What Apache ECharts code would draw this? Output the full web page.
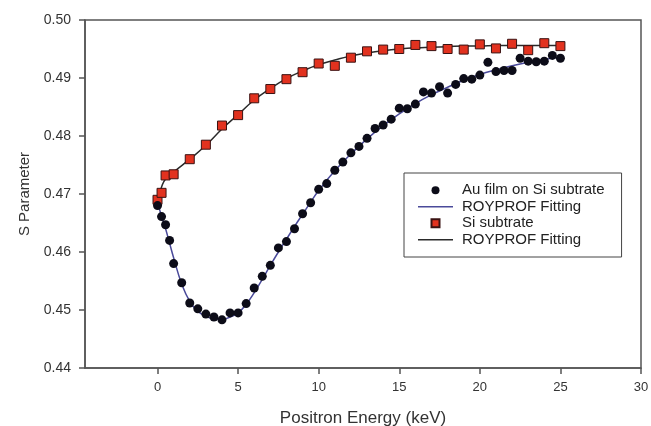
<!DOCTYPE html>
<html>
<head>
<meta charset="utf-8">
<script src="https://cdn.jsdelivr.net/npm/echarts@6/dist/echarts.min.js"></script>
<style>
html,body{margin:0;padding:0;background:#fff;}
#main{width:651px;height:426px;}
</style>
</head>
<body>
<div id="main"></div>
<script>
// Au film on Si subtrate (measured points)
var auX = [0, 0.25, 0.5, 0.75, 1, 1.5, 2, 2.5, 3, 3.5, 4, 4.5, 5, 5.5, 6, 6.5, 7, 7.5, 8, 8.5, 9, 9.5, 10, 10.5,
  11, 11.5, 12, 12.5, 13, 13.5, 14, 14.5, 15, 15.5, 16, 16.5, 17, 17.5, 18, 18.5, 19, 19.5, 20, 20.5,
  21, 21.5, 22, 22.5, 23, 23.5, 24, 24.5, 25];
var auS = [0.4680, 0.4661, 0.4647, 0.4620, 0.4580, 0.4547, 0.4512, 0.4502, 0.4493, 0.4488, 0.4483, 0.4495, 0.4495, 0.4511,
  0.4538, 0.4558, 0.4577, 0.4607, 0.4618, 0.4640, 0.4666, 0.4685, 0.4708, 0.4718,
  0.4741, 0.4755, 0.4771, 0.4782, 0.4796, 0.4813, 0.4819, 0.4829, 0.4848, 0.4847, 0.4855, 0.4876, 0.4874, 0.4885,
  0.4874, 0.4889, 0.4899, 0.4898, 0.4905, 0.4927, 0.4911, 0.4913, 0.4913, 0.4934, 0.4929, 0.4928, 0.4929, 0.4939, 0.4934];

// ROYPROF fit for Au film
var auFitX = [0, 0.25, 0.5, 0.75, 1, 1.5, 2, 2.5, 3, 3.5, 4, 4.5, 5, 5.5, 6, 6.5, 7, 7.5, 8, 8.5, 9, 9.5, 10,
  11, 12, 13, 14, 15, 16, 17, 18, 19, 20, 21, 22, 23, 24, 25];
var auFitS = [0.4685, 0.4662, 0.4640, 0.4615, 0.4590, 0.4545, 0.4515, 0.4498, 0.4489, 0.4485, 0.4484, 0.4488, 0.4495,
  0.4510, 0.4530, 0.4553, 0.4577, 0.4600, 0.4622, 0.4644, 0.4665, 0.4686, 0.4706,
  0.4740, 0.4769, 0.4795, 0.4818, 0.4838, 0.4856, 0.4871, 0.4884, 0.4896, 0.4906, 0.4914, 0.4921, 0.4927, 0.4932, 0.4936];

// Si subtrate (measured points)
var siX = [0, 0.25, 0.5, 1, 2, 3, 4, 5, 6, 7, 8, 9, 10, 11, 12, 13, 14, 15, 16, 17, 18, 19, 20, 21, 22, 23, 24, 25];
var siS = [0.4690, 0.4702, 0.4732, 0.4734, 0.4760, 0.4785, 0.4818, 0.4836, 0.4865, 0.4881, 0.4898, 0.4910, 0.4925,
  0.4921, 0.4935, 0.4946, 0.4949, 0.4950, 0.4957, 0.4955, 0.4950, 0.4949, 0.4958, 0.4951, 0.4959, 0.4948, 0.4960, 0.4955];

// ROYPROF fit for Si
var siFitX = [0, 0.25, 0.5, 1, 2, 3, 4, 5, 6, 7, 8, 9, 10, 11, 12, 13, 14, 15, 16, 17, 18, 19, 20, 21, 22, 23, 24, 25];
var siFitS = [0.4688, 0.4712, 0.4726, 0.4738, 0.4760, 0.4784, 0.4812, 0.4837, 0.4862, 0.4882, 0.4899, 0.4912, 0.4923,
  0.4931, 0.4938, 0.4943, 0.4947, 0.4950, 0.4952, 0.4953, 0.4954, 0.4955, 0.4955, 0.4956, 0.4956, 0.4956, 0.4956, 0.4956];

var xTicks = [0, 5, 10, 15, 20, 25, 30];

function pairs(xs, ys) {
  var out = [];
  for (var i = 0; i < xs.length; i++) out.push([xs[i], ys[i]]);
  return out;
}

var font = 'Liberation Sans, Arial, sans-serif';
var lineIcon = 'path://M0,0L35,0L35,1.5L0,1.5Z';
var myChart = echarts.init(document.getElementById('main'));
var option = {
  backgroundColor: '#fff',
  animation: false,
  grid: {
    left: 85, right: 10, top: 20, bottom: 58,
    outerBoundsMode: 'none',
    show: true, borderColor: '#555', borderWidth: 1.5
  },
  legend: {
    orient: 'vertical',
    left: 404, top: 173,
    padding: [9, 17, 9, 14],
    itemGap: 0,
    itemWidth: 35,
    itemHeight: 8,
    backgroundColor: '#fff',
    borderColor: '#444',
    borderWidth: 1,
    textStyle: { fontFamily: font, fontSize: 15, lineHeight: 16.5, color: '#222', padding: [0, 0, 0, 4] },
    data: [
      { name: 'Au film on Si subtrate', icon: 'circle' },
      { name: 'ROYPROF Fitting', icon: lineIcon },
      { name: 'Si subtrate', icon: 'path://M0,0L10,0L10,10L0,10Z' },
      { name: 'ROYPROF Fitting ', icon: lineIcon }
    ]
  },
  xAxis: {
    type: 'value',
    min: -4.5, max: 30,
    name: 'Positron Energy (keV)',
    nameLocation: 'middle',
    nameGap: 42,
    nameTextStyle: { fontFamily: font, fontSize: 17, color: '#333' },
    axisLine: { onZero: false, lineStyle: { color: '#555', width: 1.5 } },
    axisTick: { inside: false, length: 6, customValues: xTicks, lineStyle: { color: '#555', width: 1.5 } },
    axisLabel: { customValues: xTicks, margin: 13, fontFamily: font, fontSize: 13, color: '#333' },
    splitLine: { show: false }
  },
  yAxis: {
    type: 'value',
    min: 0.44, max: 0.50, interval: 0.01,
    name: 'S Parameter',
    nameLocation: 'middle',
    nameGap: 46,
    nameTextStyle: { fontFamily: font, fontSize: 15, color: '#333' },
    axisLine: { show: true, onZero: false, lineStyle: { color: '#555', width: 1.5 } },
    axisTick: { show: true, inside: false, length: 6, lineStyle: { color: '#555', width: 1.5 } },
    axisLabel: {
      margin: 14, fontFamily: font, fontSize: 14, color: '#333',
      formatter: function (v) { return v.toFixed(2); }
    },
    splitLine: { show: false }
  },
  series: [
    {
      name: 'ROYPROF Fitting ',
      type: 'line',
      smooth: true,
      symbol: 'none',
      data: pairs(siFitX, siFitS),
      lineStyle: { color: '#2a2a2a', width: 1.5 },
      itemStyle: { color: '#2a2a2a' },
      z: 2
    },
    {
      name: 'ROYPROF Fitting',
      type: 'line',
      smooth: true,
      symbol: 'none',
      data: pairs(auFitX, auFitS),
      lineStyle: { color: '#4a4a9a', width: 1.5 },
      itemStyle: { color: '#4a4a9a' },
      z: 2
    },
    {
      name: 'Si subtrate',
      type: 'scatter',
      symbol: 'rect',
      symbolSize: 9,
      data: pairs(siX, siS),
      itemStyle: { color: '#e2321f', borderColor: '#3a1212', borderWidth: 1, opacity: 1 },
      z: 3
    },
    {
      name: 'Au film on Si subtrate',
      type: 'scatter',
      symbol: 'circle',
      symbolSize: 9,
      data: pairs(auX, auS),
      itemStyle: { color: '#0c0c18', opacity: 1 },
      z: 4
    }
  ]
};
myChart.setOption(option);
</script>
</body>
</html>
